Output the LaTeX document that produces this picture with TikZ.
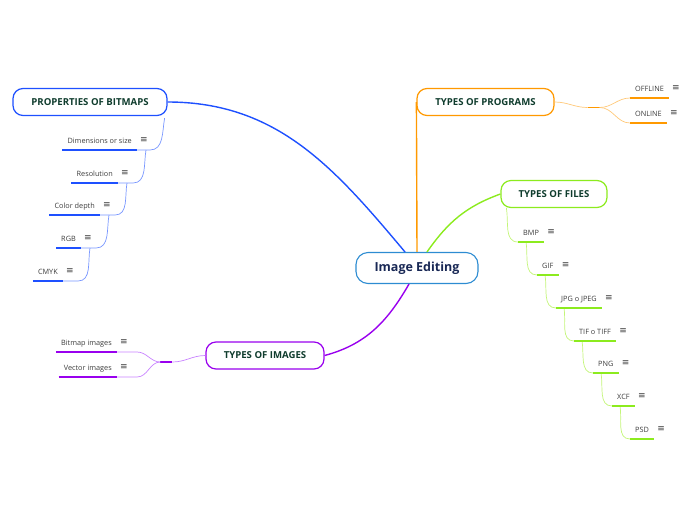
\documentclass[tikz,border=0pt]{standalone}
\usepackage{fontspec}
\setmainfont{Open Sans}
\newfontfamily\iconfont{DejaVu Sans}
\usetikzlibrary{calc}
\definecolor{RootBorder}{RGB}{45,140,210}
\definecolor{RootText}{RGB}{25,40,85}
\definecolor{TopicText}{RGB}{15,60,45}
\definecolor{LeafText}{RGB}{60,60,60}
\definecolor{MapBlue}{RGB}{30,80,255}
\definecolor{MapBlueLight}{RGB}{120,150,255}
\definecolor{MapOrange}{RGB}{255,153,0}
\definecolor{MapOrangeLight}{RGB}{255,200,120}
\definecolor{MapGreen}{RGB}{140,235,30}
\definecolor{MapGreenLight}{RGB}{195,245,120}
\definecolor{MapPurple}{RGB}{153,0,238}
\definecolor{MapPurpleLight}{RGB}{200,130,255}

\begin{document}
\begin{tikzpicture}[x=1pt,y=1pt,
	root/.style={draw=RootBorder,line width=1.1pt,rounded corners=12pt,fill=white,
		minimum width=122pt,minimum height=31pt,text=RootText,font=\bfseries\fontsize{12.5}{14}\selectfont},
	topic/.style={draw=#1,line width=1.2pt,rounded corners=10pt,fill=white,
		minimum height=27pt,text=TopicText,font=\bfseries\fontsize{9.6}{11}\selectfont},
	leaf/.style={minimum height=17pt,inner xsep=5pt,text height=5.5pt,text depth=1.5pt,
		text=LeafText,font=\fontsize{7.3}{9}\selectfont},
	icon/.style={inner sep=0pt,text=LeafText,font=\iconfont\fontsize{9}{10}\selectfont},
	uline/.style={draw=#1,line width=2pt},
	trunk/.style={draw=#1,line width=1.4pt},
	twig/.style={draw=#1,line width=0.7pt}]
\useasboundingbox (0,0) rectangle (696,-520);

% central topic and main branches
\node[root] (ie) at (417,-268) {Image Editing};
\node[topic=MapBlue,minimum width=154pt] (pb) at (90,-102) {PROPERTIES OF BITMAPS};
\node[topic=MapOrange,minimum width=137pt] (pp) at (485.5,-102) {TYPES OF PROGRAMS};
\node[topic=MapGreen,minimum width=106pt] (pf) at (554,-194) {TYPES OF FILES};
\node[topic=MapPurple,minimum width=118pt] (pi) at (265,-355.5) {TYPES OF IMAGES};

\draw[trunk=MapBlue] (pb.east) to[out=0,in=130] ($(ie.north)+(-12,0)$);
\draw[trunk=MapOrange] (ie.north) -- (pp.west);
\draw[trunk=MapGreen] ($(ie.north)+(10,0)$) to[out=55,in=200] (pf.west);
\draw[trunk=MapPurple] ($(ie.south)+(-8,0)$) to[out=-120,in=15] (pi.east);

% leaves
\foreach \n/\t/\x/\y in {d1/Dimensions or size/137/150,d2/Resolution/118/183,
	d3/Color depth/100/215,d4/RGB/81/248,d5/CMYK/63/281,
	b1/Bitmap images/117/352,b2/Vector images/117/377}
	\node[leaf,anchor=south east] (\n) at (\x,-\y) {\t};
\foreach \n/\t/\x/\y in {f1/BMP/518/242,f2/GIF/537/275,f3/JPG o JPEG/556/308,
	f4/TIF o TIFF/574/341,f5/PNG/593/373,f6/XCF/612/406,f7/PSD/630/439,
	o1/OFFLINE/630/98,o2/ONLINE/630/123}
	\node[leaf,anchor=south west] (\n) at (\x,-\y) {\t};
\foreach \n in {d1,d2,d3,d4,d5,b1,b2,f1,f2,f3,f4,f5,f6,f7,o1,o2}
	\node[icon] (\n-m) at ($(\n.south east)+(7,10)$) {≡};

% bitmaps
\draw[twig=MapBlueLight] ($(pb.south east)+(-3,-2)$) to[out=-100,in=0]
	($(d1.south east)+(13,0)$) -- (d1.south east);
\foreach \a/\b in {d1/d2,d2/d3,d3/d4,d4/d5}
	\draw[twig=MapBlueLight] ($(\a.south east)+(9,0)$) to[out=-100,in=0]
		($(\b.south east)+(15,0)$) -- (\b.south east);
\foreach \n in {d1,d2,d3,d4,d5}\draw[uline=MapBlue] (\n.south west) -- (\n.south east);

% files
\draw[twig=MapGreenLight] ($(pf.south west)+(6,0)$) to[out=-80,in=180] (f1.south west);
\foreach \a/\b in {f1/f2,f2/f3,f3/f4,f4/f5,f5/f6,f6/f7}
	\draw[twig=MapGreenLight] ($(\a.south west)+(8,0)$) to[out=-80,in=180] (\b.south west);
\foreach \n in {f1,f2,f3,f4,f5,f6,f7}\draw[uline=MapGreen] (\n.south west) -- (\n.south east);

% programs
\coordinate (pj) at ($(pp.east)+(33,-5.5)$);
\coordinate (pk) at ($(pj)+(12,0)$);
\draw[twig=MapOrangeLight] (pp.east) to[out=0,in=180] (pj);
\draw[trunk=MapOrange] (pj) -- (pk);
\foreach \n in {o1,o2}\draw[twig=MapOrangeLight] (pk) to[out=0,in=180] (\n.south west);
\foreach \n in {o1,o2}\draw[uline=MapOrange] (\n.south west) -- (\n.south east);

% images
\coordinate (ij) at ($(pi.west)+(-33,-6.5)$);
\coordinate (ik) at ($(ij)+(-12,0)$);
\draw[twig=MapPurpleLight] (pi.west) to[out=180,in=0] (ij);
\draw[trunk=MapPurple] (ij) -- (ik);
\foreach \n in {b1,b2}\draw[twig=MapPurpleLight] (ik) to[out=180,in=0]
	($(\n.south east)+(20,0)$) -- (\n.south east);
\foreach \n in {b1,b2}\draw[uline=MapPurple] (\n.south west) -- (\n.south east);
\end{tikzpicture}
\end{document}
